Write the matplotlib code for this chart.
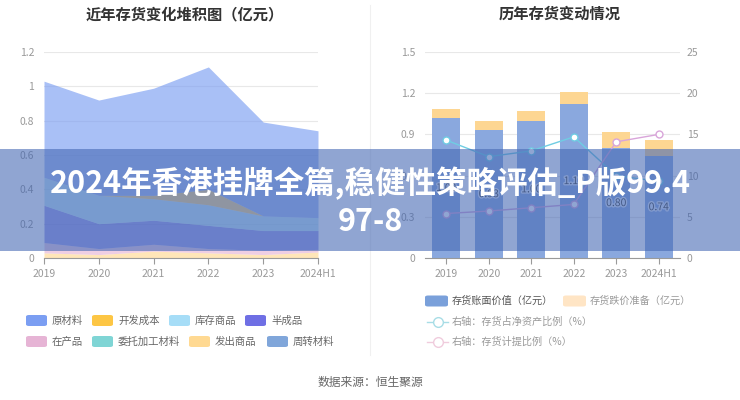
import numpy as np
import matplotlib
matplotlib.use('Agg')
import matplotlib.pyplot as plt
import matplotlib.patheffects as pe
from matplotlib.patches import FancyBboxPatch, Rectangle
from matplotlib.lines import Line2D

plt.rcParams['font.family'] = ['Noto Sans CJK SC', 'DejaVu Sans']

years = ['2019', '2020', '2021', '2022', '2023', '2024H1']

# 左图：存货构成（亿元），自下而上堆积
fachu = [0.03, 0.02, 0.04, 0.03, 0.02, 0.035]        # 发出商品
zaichan = [0.06, 0.035, 0.04, 0.025, 0.025, 0.015]   # 在产品
banchengpin = [0.217, 0.145, 0.14, 0.135, 0.115, 0.11]  # 半成品
kucun = [0.163, 0.165, 0.125, 0.12, 0.085, 0.075]    # 库存商品
kaifa = [0.0, 0.0, 0.02, 0.09, 0.0, 0.0]             # 开发成本
yuancailiao = [0.56, 0.555, 0.624, 0.713, 0.547, 0.506]  # 原材料
weituo = [0.0, 0.0, 0.0, 0.0, 0.0, 0.0]              # 委托加工材料
zhouzhuan = [0.0, 0.0, 0.0, 0.0, 0.0, 0.0]           # 周转材料

# 右图
book_value = [1.02, 0.93, 1.00, 1.12, 0.80, 0.74]    # 存货账面价值（亿元）
reserve = [0.065, 0.065, 0.07, 0.09, 0.12, 0.12]     # 存货跌价准备（亿元）
net_asset_ratio = [14.3, 12.3, 13.0, 14.7, 10.0, 9.3]  # 存货占净资产比例（%）
provision_ratio = [5.4, 5.7, 6.1, 6.5, 14.1, 15.0]   # 存货计提比例（%）

colors = {
    '原材料': '#7B9EF2', '开发成本': '#FDC644', '库存商品': '#A6DDF7', '半成品': '#6F6FE4',
    '在产品': '#E6B4D5', '委托加工材料': '#7FD5D5', '发出商品': '#FFD992', '周转材料': '#80A6DA',
}

W, H = 740, 400
fig = plt.figure(figsize=(7.4, 4.0), dpi=100)


def rect(x0, y0, x1, y1):
    # 像素坐标（左上为原点）转为 figure 坐标
    return [x0 / W, 1 - y1 / H, (x1 - x0) / W, (y1 - y0) / H]


def style_axis(ax):
    for s in ['top', 'left', 'right']:
        ax.spines[s].set_visible(False)
    ax.spines['bottom'].set_color('#9a9a9a')
    ax.tick_params(axis='x', colors='#9a9a9a', length=4, labelsize=7.5, pad=4, labelcolor='#999999')
    ax.tick_params(axis='y', length=0, labelsize=7.5, pad=7, labelcolor='#999999')
    ax.yaxis.grid(True, color='#e8e8e8', lw=0.8)
    ax.set_axisbelow(True)


# ---- 左图：堆积面积 ----
ax1 = fig.add_axes(rect(44, 52, 318, 258))
x = np.arange(len(years))
stack = [('发出商品', fachu), ('在产品', zaichan), ('半成品', banchengpin),
         ('委托加工材料', weituo), ('库存商品', kucun), ('周转材料', zhouzhuan),
         ('开发成本', kaifa), ('原材料', yuancailiao)]
base = np.zeros(len(years))
for name, vals in stack:
    top = base + np.array(vals)
    ax1.fill_between(x, base, top, color=colors[name], alpha=0.65, lw=0)
    base = top
ax1.set_xlim(0, 5)
ax1.set_ylim(0, 1.2)
ax1.set_xticks(x)
ax1.set_xticklabels(years)
ax1.set_yticks([0, 0.2, 0.4, 0.6, 0.8, 1.0, 1.2])
ax1.set_yticklabels(['0', '0.2', '0.4', '0.6', '0.8', '1', '1.2'])
style_axis(ax1)

# ---- 右图：柱 + 折线 ----
ax2 = fig.add_axes(rect(425, 52, 680, 258))
ax2.bar(x, book_value, width=0.66, color='#8AA8DE', zorder=2)
ax2.bar(x, reserve, width=0.66, bottom=book_value, color='#FDD692', zorder=2)
for i, v in enumerate(book_value):
    ax2.text(i, v / 2, f'{v:.2f}', ha='center', va='center', fontsize=7.5, color='#444444', zorder=3,
             path_effects=[pe.withStroke(linewidth=2, foreground='#dde6f5')])
ax2.set_xlim(-0.5, 5.5)
ax2.set_ylim(0, 1.5)
ax2.set_xticks(x)
ax2.set_xticklabels(years)
ax2.set_yticks([0, 0.3, 0.6, 0.9, 1.2, 1.5])
ax2.set_yticklabels(['0', '0.3', '0.6', '0.9', '1.2', '1.5'])
style_axis(ax2)

ax3 = ax2.twinx()
ax3.plot(x, net_asset_ratio, color='#6FCDE3', lw=1, marker='o', ms=5, mfc='white', mew=1)
ax3.plot(x, provision_ratio, color='#D9A5DA', lw=1, marker='o', ms=5, mfc='white', mew=1)
ax3.set_ylim(0, 25)
ax3.set_yticks([0, 5, 10, 15, 20, 25])
for s in ax3.spines.values():
    s.set_visible(False)
ax3.tick_params(axis='y', length=0, labelsize=7.5, pad=5, labelcolor='#999999')

# ---- 标题 ----
fig.text(185 / W, 1 - 14 / H, '近年存货变化堆积图（亿元）', ha='center', va='center',
         fontsize=11, fontweight='bold', color='#333333')
fig.text(560 / W, 1 - 14 / H, '历年存货变动情况', ha='center', va='center',
         fontsize=11, fontweight='bold', color='#333333')

# 分隔线
fig.add_artist(Line2D([370 / W, 370 / W], [1 - 5 / H, 1 - 355 / H], color='#f0f0f0', lw=0.8))

# ---- 左图图例 ----
left_legend = [(26, 320.5, '原材料'), (92, 320.5, '开发成本'), (169, 320.5, '库存商品'), (245, 320.5, '半成品'),
               (26, 341.5, '在产品'), (92, 341.5, '委托加工材料'), (189, 341.5, '发出商品'), (267, 341.5, '周转材料')]
for px, py, name in left_legend:
    fig.add_artist(FancyBboxPatch((px / W, 1 - (py + 5.5) / H), 21 / W, 11 / H,
                                  boxstyle='round,pad=0,rounding_size=0.004',
                                  transform=fig.transFigure, color=colors[name], lw=0))
    fig.text((px + 26) / W, 1 - py / H, name, ha='left', va='center', fontsize=7.5, color='#666666')

# ---- 右图图例 ----
fig.add_artist(FancyBboxPatch((425 / W, 1 - 306.5 / H), 23 / W, 11 / H,
                              boxstyle='round,pad=0,rounding_size=0.004',
                              transform=fig.transFigure, color='#7AA0DA', lw=0))
fig.text(452 / W, 1 - 301 / H, '存货账面价值（亿元）', ha='left', va='center', fontsize=7.3, color='#555555')
fig.add_artist(FancyBboxPatch((563 / W, 1 - 306.5 / H), 23 / W, 11 / H,
                              boxstyle='round,pad=0,rounding_size=0.004',
                              transform=fig.transFigure, color='#FFE5C5', lw=0))
fig.text(590 / W, 1 - 301 / H, '存货跌价准备（亿元）', ha='left', va='center', fontsize=7.3, color='#999999')
for py, c, label in [(321.7, '#A8DDE6', '右轴：存货占净资产比例（%）'),
                     (341.7, '#F0CCDD', '右轴：存货计提比例（%）')]:
    fig.add_artist(Line2D([427 / W, 448 / W], [1 - py / H, 1 - py / H], color=c, lw=1))
    fig.add_artist(Line2D([437.5 / W], [1 - py / H], color=c, marker='o', ms=7, mfc='white', mew=1))
    fig.text(452 / W, 1 - py / H, label, ha='left', va='center', fontsize=7.3, color='#999999')

fig.text(370 / W, 1 - 382.5 / H, '数据来源：恒生聚源', ha='center', va='center', fontsize=8.5, color='#666666')

# ---- 横幅 ----
fig.add_artist(Rectangle((0, 1 - 251 / H), 1, 102 / H, transform=fig.transFigure,
                         color=(70 / 255, 105 / 255, 180 / 255), alpha=0.6, lw=0, zorder=10))
fig.text(0.5, 1 - 183 / H, '2024年香港挂牌全篇,稳健性策略评估_P版99.4', ha='center', va='center',
         fontsize=22, fontweight='bold', color='white', zorder=11)
fig.text(0.5, 1 - 222 / H, '97-8', ha='center', va='center',
         fontsize=22, fontweight='bold', color='white', zorder=11)

fig.savefig('out.png', dpi=100)
